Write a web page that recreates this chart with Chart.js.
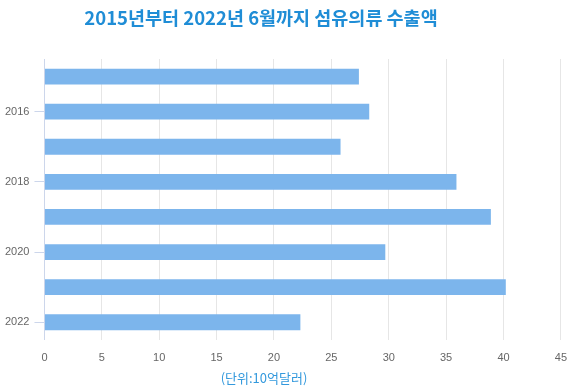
<!DOCTYPE html>
<html>
<head>
<meta charset="utf-8">
<script src="https://cdn.jsdelivr.net/npm/chart.js@4/dist/chart.umd.min.js"></script>
<style>
  html, body { margin: 0; padding: 0; background: #fff; }
  #wrap { width: 567px; height: 391px; position: relative; }
</style>
</head>
<body>
<div id="wrap"><canvas id="c" width="567" height="391"></canvas></div>
<script>
const years = ['2015', '2016', '2017', '2018', '2019', '2020', '2021', '2022'];
const exportValues = [27.4, 28.3, 25.8, 35.9, 38.9, 29.7, 40.2, 22.3];
const xTicks = [0, 5, 10, 15, 20, 25, 30, 35, 40, 45];
const titleText = '2015년부터 2022년 6월까지 섬유의류 수출액';
const axisTitleText = '(단위:10억달러)';

const textPlugin = {
  id: 'customText',
  afterDraw(chart) {
    const ctx = chart.ctx;
    ctx.save();
    ctx.textAlign = 'center';
    ctx.textBaseline = 'middle';
    ctx.fillStyle = '#1f8dd6';
    ctx.font = 'bold 18.5px "Noto Sans CJK KR", "Noto Sans", sans-serif';
    ctx.fillText(titleText, 261, 18);
    ctx.fillStyle = '#3399dd';
    ctx.font = '13px "Noto Sans CJK KR", "Noto Sans", sans-serif';
    ctx.fillText(axisTitleText, 264, 378);
    ctx.restore();
  }
};

new Chart(document.getElementById('c'), {
  type: 'bar',
  data: {
    labels: years,
    datasets: [{
      data: exportValues,
      backgroundColor: '#7cb5ec',
      borderWidth: 0,
      barPercentage: 0.5,
      categoryPercentage: 0.9
    }]
  },
  options: {
    indexAxis: 'y',
    responsive: false,
    animation: false,
    layout: { padding: { top: 59, left: 0, right: 6, bottom: 26 } },
    plugins: {
      legend: { display: false },
      title: { display: false },
      tooltip: { enabled: false }
    },
    scales: {
      x: {
        min: 0,
        max: 45,
        afterBuildTicks(scale) { scale.ticks = xTicks.map(v => ({ value: v })); },
        grid: { color: '#e6e6e6', drawTicks: true, tickLength: 12, tickColor: 'rgba(0,0,0,0)' },
        border: { display: false },
        ticks: {
          color: '#666666',
          padding: 0,
          font: { family: '"Liberation Sans", Arial, sans-serif', size: 11 }
        }
      },
      y: {
        grid: {
          drawOnChartArea: false,
          offset: false,
          tickLength: 10,
          color: ctx => (ctx.index % 2 === 1 ? '#ccd6eb' : 'rgba(0,0,0,0)')
        },
        border: { display: true, color: '#ccd6eb', width: 1 },
        ticks: {
          autoSkip: false,
          color: '#666666',
          padding: 5,
          font: { family: '"Liberation Sans", Arial, sans-serif', size: 11 },
          callback(value, index) { return index % 2 === 1 ? years[index] : ''; }
        }
      }
    }
  },
  plugins: [textPlugin]
});
</script>
</body>
</html>
